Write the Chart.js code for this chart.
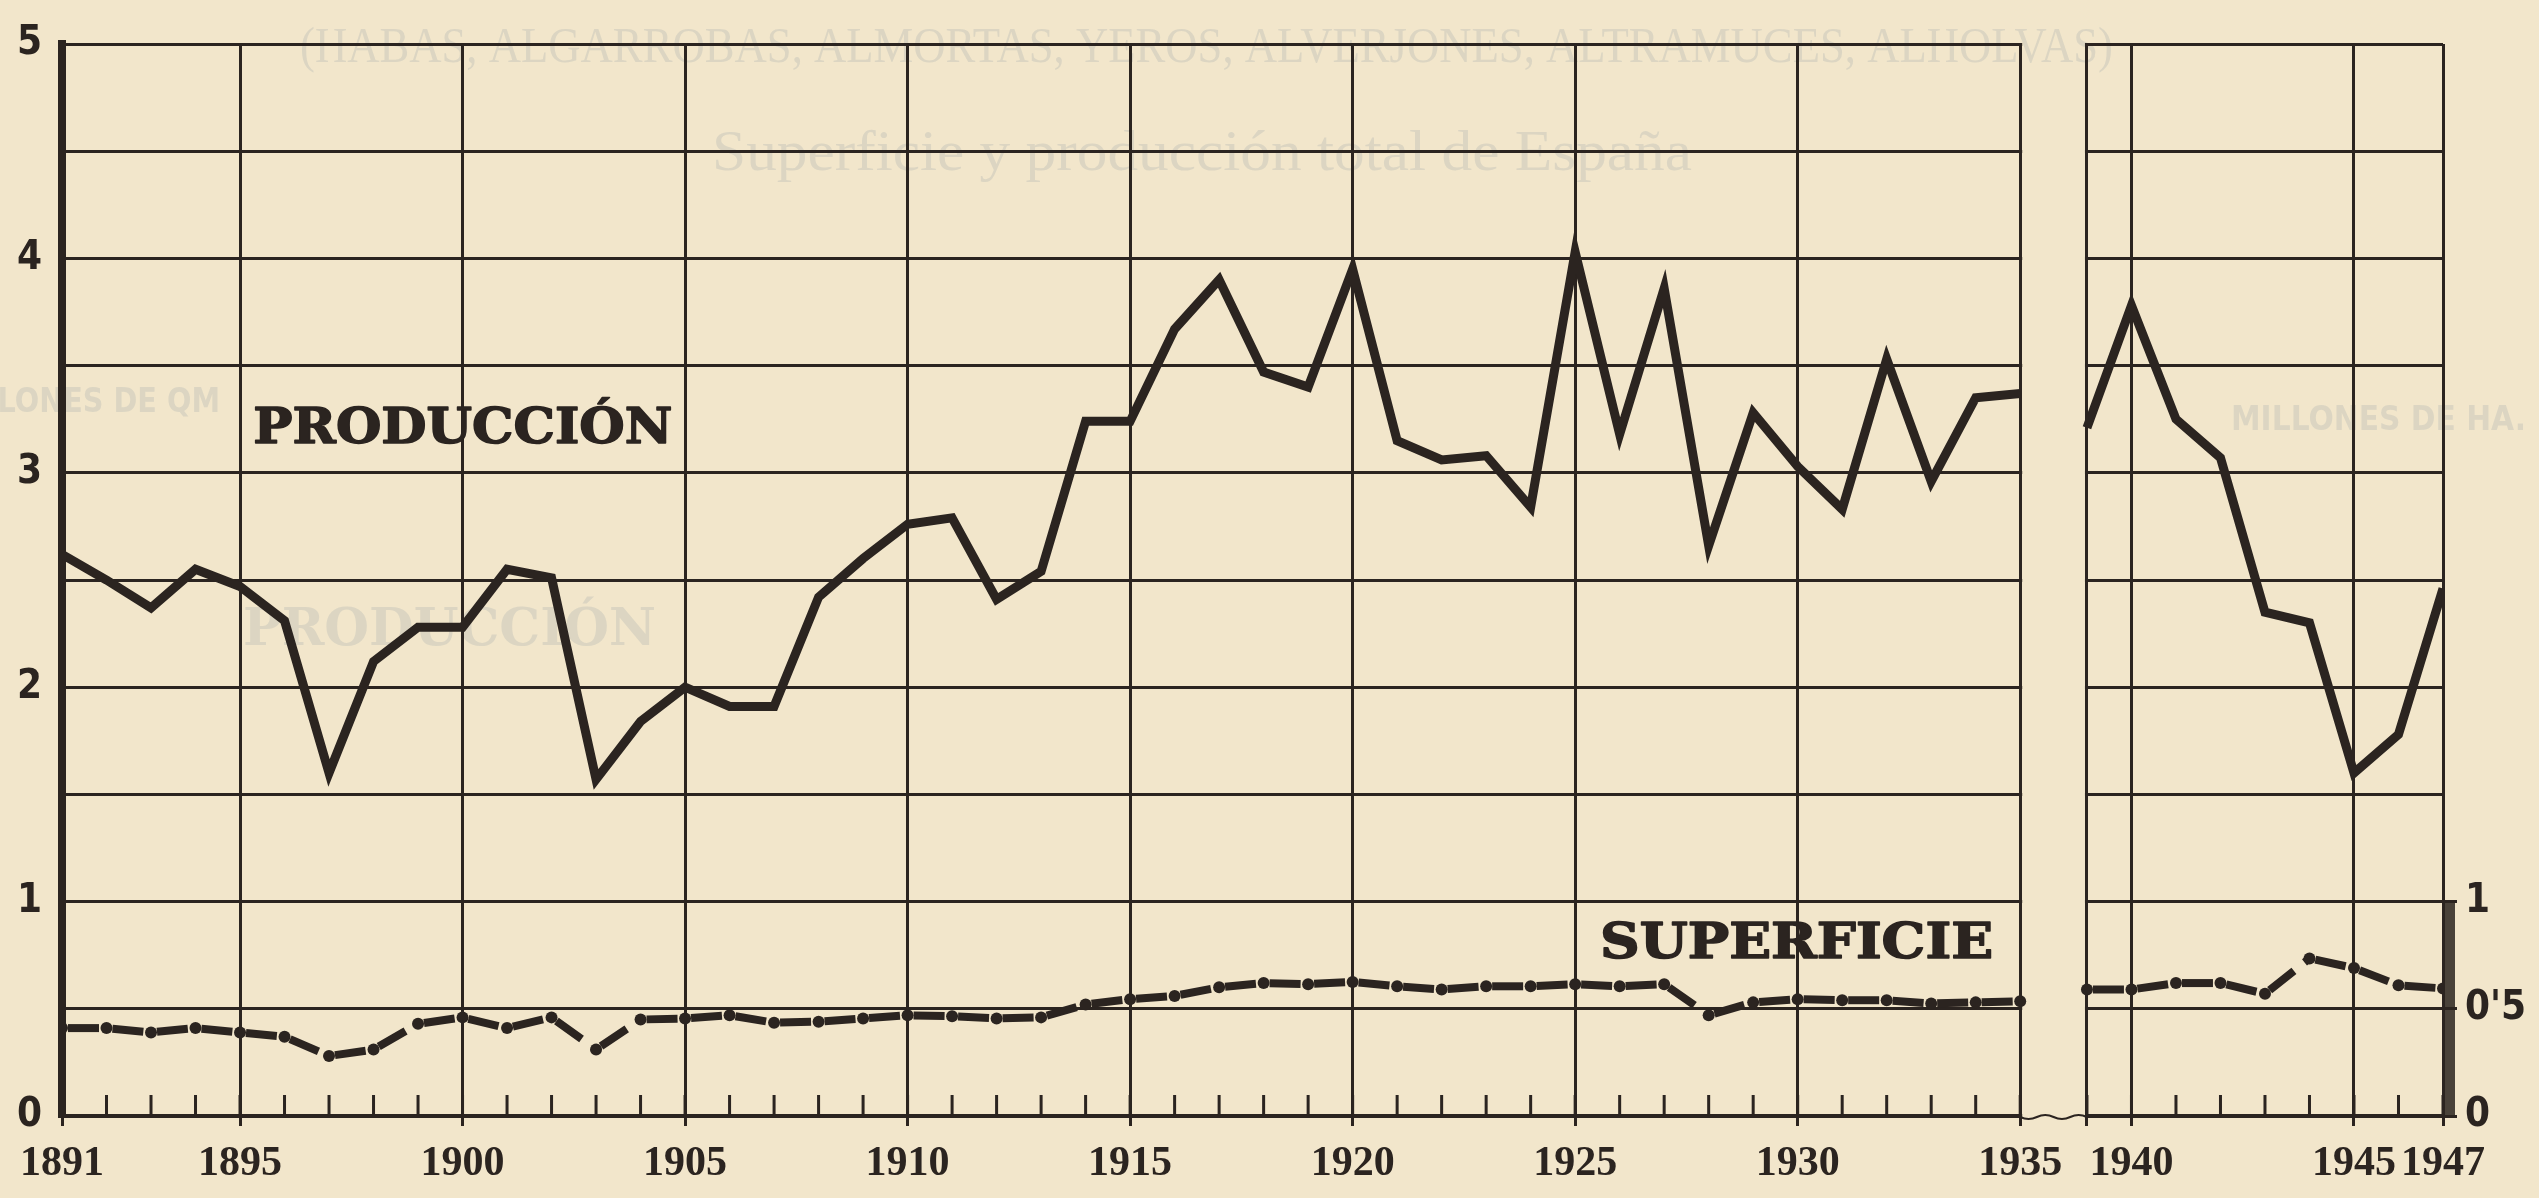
<!DOCTYPE html>
<html lang="es">
<head>
<meta charset="utf-8">
<title>Superficie y producción total de España</title>
<script src="https://cdn.jsdelivr.net/npm/chart.js@4.4.1/dist/chart.umd.min.js"></script>
<style>
  html, body { margin: 0; padding: 0; background: #f2e6cb; }
  #grafico { display: block; }
</style>
</head>
<body>
<canvas id="grafico" width="2539" height="1198"></canvas>
<script>
// Años de cada tramo (el eje se corta entre 1935 y 1939)
const anosA = [1891, 1892, 1893, 1894, 1895, 1896, 1897, 1898, 1899, 1900,
               1901, 1902, 1903, 1904, 1905, 1906, 1907, 1908, 1909, 1910,
               1911, 1912, 1913, 1914, 1915, 1916, 1917, 1918, 1919, 1920,
               1921, 1922, 1923, 1924, 1925, 1926, 1927, 1928, 1929, 1930,
               1931, 1932, 1933, 1934, 1935];
const anosB = [1939, 1940, 1941, 1942, 1943, 1944, 1945, 1946, 1947];

// Producción (millones de Qm), eje izquierdo
const produccion = [2.62, 2.50, 2.37, 2.55, 2.47, 2.31, 1.60, 2.12, 2.28, 2.28,
                    2.55, 2.51, 1.57, 1.84, 2.00, 1.91, 1.91, 2.42, 2.60, 2.76,
                    2.79, 2.41, 2.54, 3.24, 3.24, 3.67, 3.90, 3.47, 3.40, 3.95,
                    3.15, 3.06, 3.08, 2.84, 4.03, 3.18, 3.86, 2.66, 3.28, 3.03,
                    2.83, 3.53, 2.96, 3.35, 3.37,
                    3.21, 3.78, 3.25, 3.07, 2.35, 2.30, 1.60, 1.78, 2.46];

// Superficie (millones de Ha), eje derecho
const superficie = [0.41, 0.41, 0.39, 0.41, 0.39, 0.37, 0.28, 0.31, 0.43, 0.46,
                    0.41, 0.46, 0.31, 0.45, 0.455, 0.47, 0.435, 0.44, 0.455, 0.47,
                    0.465, 0.455, 0.46, 0.52, 0.545, 0.56, 0.60, 0.62, 0.615, 0.625,
                    0.605, 0.59, 0.605, 0.605, 0.615, 0.605, 0.615, 0.47, 0.53, 0.545,
                    0.54, 0.54, 0.525, 0.53, 0.535,
                    0.59, 0.59, 0.62, 0.62, 0.57, 0.735, 0.69, 0.61, 0.595];

const etiquetasAnos = [1891, 1895, 1900, 1905, 1910, 1915, 1920, 1925, 1930, 1935, 1940, 1945, 1947];
const lineasAnos = [1891, 1895, 1900, 1905, 1910, 1915, 1920, 1925, 1930, 1935, 1939, 1940, 1945, 1947];
const ticksDerecha = [0, 0.5, 1];
const etiquetasDerecha = ['0', "0'5", '1'];

const tinta = '#2b2420';
const papel = '#f2e6cb';
const fantasma = 'rgba(95,120,150,0.15)';

// corte del eje: 1936-1938 no se dibujan, el tramo B se acerca 2,5 años
const CORTE = 2.5;
const posX = a => (a >= 1939 ? a - CORTE : a);
const anoDe = x => (x > 1935.5 ? x + CORTE : x);
const anos = anosA.concat(anosB);

function puntos(valores) {
    const d = [];
    anos.forEach((a, i) => {
        if (a === 1939) d.push({ x: 1935.75, y: null });
        d.push({ x: posX(a), y: valores[i] });
    });
    return d;
}

function textoAjustado(ctx, texto, x, yBase, ancho, fuente, trazo) {
    ctx.save();
    ctx.font = fuente;
    ctx.textAlign = 'left';
    ctx.textBaseline = 'alphabetic';
    const w = ctx.measureText(texto).width;
    ctx.translate(x, yBase);
    ctx.scale(ancho / w, 1);
    ctx.fillText(texto, 0, 0);
    if (trazo) {
        ctx.strokeStyle = ctx.fillStyle;
        ctx.lineWidth = trazo;
        ctx.lineJoin = 'round';
        ctx.strokeText(texto, 0, 0);
    }
    ctx.restore();
}

// lo que se transparenta de la otra página
function dibujarFantasmas(ctx) {
    ctx.save();
    ctx.fillStyle = fantasma;
    textoAjustado(ctx, '(HABAS, ALGARROBAS, ALMORTAS, YEROS, ALVERJONES, ALTRAMUCES, ALHOLVAS)',
        300, 62, 1813, '50px "Liberation Serif", serif');
    textoAjustado(ctx, 'Superficie y producción total de España', 712, 170, 980, '56px "Liberation Serif", serif');
    textoAjustado(ctx, 'MILLONES DE QM', -60, 412, 280, 'bold 34px "DejaVu Sans Condensed", "DejaVu Sans", sans-serif');
    textoAjustado(ctx, 'MILLONES DE HA.', 2231, 430, 295, 'bold 34px "DejaVu Sans Condensed", "DejaVu Sans", sans-serif');
    textoAjustado(ctx, 'PRODUCCIÓN', 243, 645, 413, 'bold 52px "DejaVu Serif", serif');
    ctx.restore();
}

const decoracion = {
    id: 'decoracion',
    beforeDraw(chart) {
        const { ctx, width, height } = chart;
        ctx.save();
        ctx.fillStyle = papel;
        ctx.fillRect(0, 0, width, height);
        ctx.restore();
        dibujarFantasmas(ctx);
    },
    beforeDatasetsDraw(chart) {
        const { ctx, chartArea: a, scales: { x } } = chart;
        const x1 = x.getPixelForValue(1935);
        const x2 = x.getPixelForValue(posX(1939));
        ctx.save();
        // hueco del corte
        ctx.beginPath();
        ctx.rect(x1 + 2, a.top - 6, x2 - x1 - 4, a.bottom - a.top + 10);
        ctx.fillStyle = papel;
        ctx.fill();
        ctx.clip();
        dibujarFantasmas(ctx);
        ctx.restore();

        ctx.save();
        ctx.strokeStyle = tinta;
        ctx.lineWidth = 2;
        ctx.beginPath();
        ctx.moveTo(x1, a.bottom + 1);
        const n = 4, paso = (x2 - x1) / n;
        for (let i = 0; i < n; i++) {
            ctx.quadraticCurveTo(x1 + paso * (i + 0.5), a.bottom + 1 + (i % 2 ? -4 : 4), x1 + paso * (i + 1), a.bottom + 1);
        }
        ctx.stroke();
        // marcas de cada año
        ctx.lineWidth = 3;
        ctx.beginPath();
        anos.forEach(an => {
            const px = x.getPixelForValue(posX(an));
            ctx.moveTo(px, a.bottom);
            ctx.lineTo(px, a.bottom - 21);
        });
        ctx.stroke();
        ctx.restore();
    },
    afterDatasetsDraw(chart) {
        const { ctx, chartArea: a, scales: { x, y, y2 } } = chart;
        ctx.save();
        // barra gruesa del eje de superficie
        const arriba = y2.getPixelForValue(1), abajo = y2.getPixelForValue(0);
        ctx.fillStyle = 'rgba(43,36,32,0.85)';
        ctx.fillRect(a.right + 1, arriba, 11, abajo - arriba + 2);
        // rótulos de las series
        ctx.fillStyle = tinta;
        textoAjustado(ctx, 'PRODUCCIÓN', x.getPixelForValue(1895.3), y.getPixelForValue(3.14), 419,
            'bold 48px "DejaVu Serif", serif', 1.5);
        textoAjustado(ctx, 'SUPERFICIE', x.getPixelForValue(1925.56), y.getPixelForValue(0.737), 393,
            'bold 48px "DejaVu Serif", serif', 1.5);
        ctx.restore();
    }
};

const fuenteEje = { family: '"Liberation Sans Narrow", "DejaVu Sans Condensed", "DejaVu Sans", sans-serif', size: 40, weight: 'bold' };
const fuenteAnos = { family: '"Liberation Serif", "DejaVu Serif", serif', size: 42, weight: 'bold' };

new Chart(document.getElementById('grafico'), {
    type: 'line',
    data: {
        datasets: [
            {
                label: 'Producción',
                data: puntos(produccion),
                yAxisID: 'y',
                borderColor: tinta,
                borderWidth: 9,
                borderJoinStyle: 'miter',
                pointRadius: 0,
                tension: 0,
                spanGaps: false
            },
            {
                label: 'Superficie',
                data: puntos(superficie),
                yAxisID: 'y2',
                borderColor: tinta,
                borderWidth: 8,
                borderCapStyle: 'butt',
                borderDash: [31, 13.5],
                segment: {
                    borderDashOffset: c => (c.p0DataIndex % 2 ? 38.5 : 38.51)
                },
                pointRadius: 6,
                pointBackgroundColor: tinta,
                pointBorderWidth: 0,
                tension: 0,
                spanGaps: false
            }
        ]
    },
    options: {
        responsive: false,
        animation: false,
        devicePixelRatio: 1,
        layout: { padding: { top: 19, left: 0, right: 0, bottom: 0 } },
        plugins: { legend: { display: false }, tooltip: { enabled: false } },
        scales: {
            x: {
                type: 'linear',
                min: 1891,
                max: posX(1947),
                afterBuildTicks: s => { s.ticks = lineasAnos.map(a => ({ value: posX(a) })); },
                afterFit: s => { s.height = 82; },
                grid: { color: tinta, lineWidth: 3, drawTicks: true, tickLength: 10, tickColor: tinta, tickWidth: 3 },
                border: { display: true, color: tinta, width: 4 },
                ticks: {
                    autoSkip: false,
                    maxRotation: 0,
                    padding: 13,
                    color: tinta,
                    font: fuenteAnos,
                    callback: v => {
                        const a = Math.round(anoDe(v));
                        return etiquetasAnos.includes(a) ? String(a) : '';
                    }
                }
            },
            y: {
                position: 'left',
                min: 0,
                max: 5,
                afterFit: s => { s.width = 62; },
                grid: { color: tinta, lineWidth: 3, drawTicks: false },
                border: { display: true, color: tinta, width: 8 },
                ticks: {
                    stepSize: 0.5,
                    padding: 20,
                    color: tinta,
                    font: fuenteEje,
                    callback: v => (Number.isInteger(v) ? String(v) : '')
                }
            },
            y2: {
                position: 'right',
                min: 0,
                max: 5,
                afterBuildTicks: s => { s.ticks = ticksDerecha.map(v => ({ value: v })); },
                afterFit: s => { s.width = 96; },
                grid: { drawOnChartArea: false, drawTicks: true, tickLength: 14, color: tinta, lineWidth: 3 },
                border: { display: false },
                ticks: {
                    padding: 8,
                    color: tinta,
                    font: fuenteEje,
                    callback: v => etiquetasDerecha[ticksDerecha.indexOf(v)]
                }
            }
        }
    },
    plugins: [decoracion]
});
</script>
</body>
</html>
